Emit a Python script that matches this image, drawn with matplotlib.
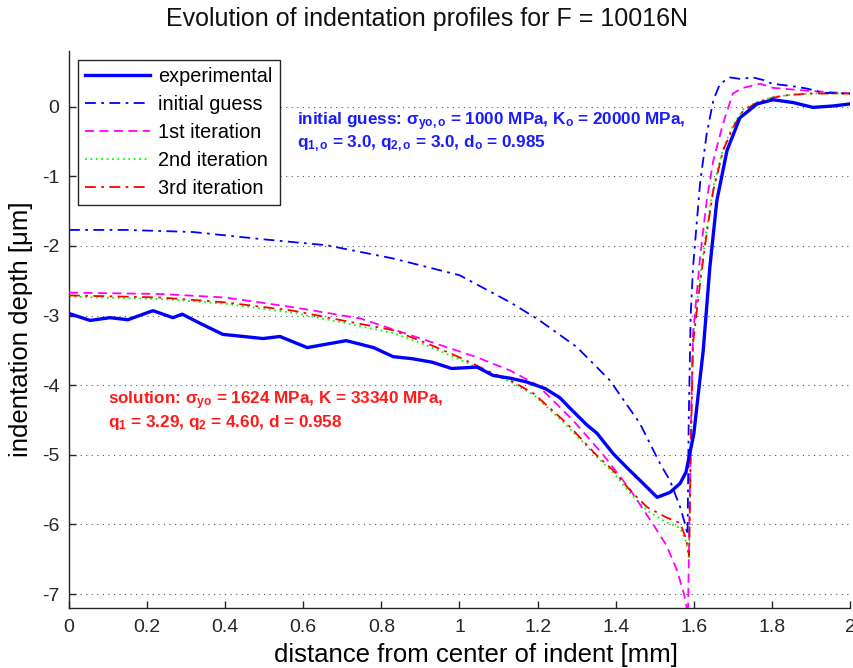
import matplotlib
matplotlib.use("Agg")
import matplotlib.pyplot as plt

plt.rcParams['font.family'] = ['Liberation Sans', 'DejaVu Sans']
plt.rcParams['mathtext.fontset'] = 'custom'
plt.rcParams['mathtext.rm'] = 'Liberation Sans'
plt.rcParams['mathtext.bf'] = 'Liberation Sans:bold'
plt.rcParams['mathtext.it'] = 'Liberation Sans:italic'
plt.rcParams['axes.unicode_minus'] = False

# ---------------- data ----------------
exp_x = [0.0, 0.054, 0.105, 0.151, 0.18, 0.215, 0.266, 0.29, 0.335, 0.394, 0.446, 0.497, 0.54,
         0.61, 0.65, 0.71, 0.78, 0.83, 0.88, 0.93, 0.98, 1.045, 1.086, 1.13, 1.17, 1.22, 1.257,
         1.283, 1.326, 1.352, 1.393, 1.428, 1.47, 1.506, 1.539, 1.565, 1.58, 1.6, 1.612, 1.624,
         1.641, 1.659, 1.685, 1.718, 1.762, 1.803, 1.854, 1.905, 1.956, 2.0]
exp_y = [-2.97, -3.07, -3.03, -3.06, -3.0, -2.93, -3.03, -2.98, -3.11, -3.27, -3.30, -3.33, -3.30,
         -3.46, -3.42, -3.36, -3.46, -3.59, -3.62, -3.67, -3.76, -3.74, -3.86, -3.90, -3.95, -4.05,
         -4.18, -4.33, -4.57, -4.69, -4.98, -5.18, -5.41, -5.61, -5.54, -5.41, -5.25, -4.7, -4.1,
         -3.51, -2.31, -1.35, -0.63, -0.16, 0.04, 0.10, 0.06, -0.01, 0.01, 0.04]

init_x = [0.0, 0.148, 0.318, 0.489, 0.66, 0.83, 1.0, 1.13, 1.2, 1.3, 1.385, 1.462, 1.513, 1.539,
          1.565, 1.578, 1.584, 1.587, 1.592, 1.598, 1.616, 1.633, 1.65, 1.667, 1.693, 1.718, 1.752,
          1.78, 1.80, 1.846, 1.89, 1.93, 2.0]
init_y = [-1.77, -1.77, -1.80, -1.90, -1.99, -2.18, -2.42, -2.81, -3.05, -3.45, -3.93, -4.55,
          -5.12, -5.37, -5.75, -6.0, -6.15, -4.5, -3.0, -2.31, -1.1, -0.39, 0.09, 0.33, 0.42, 0.40,
          0.42, 0.38, 0.33, 0.30, 0.26, 0.20, 0.19]

it1_x = [0.0, 0.233, 0.40, 0.574, 0.745, 0.917, 1.045, 1.13, 1.2, 1.29, 1.368, 1.437, 1.496, 1.53,
         1.557, 1.575, 1.585, 1.59, 1.594, 1.598, 1.616, 1.633, 1.65, 1.675, 1.70, 1.726, 1.77,
         1.803, 1.89, 2.0]
it1_y = [-2.67, -2.69, -2.74, -2.88, -3.04, -3.36, -3.6, -3.79, -4.0, -4.5, -5.0, -5.5, -6.0, -6.3,
         -6.66, -7.0, -7.3, -5.5, -4.2, -3.26, -2.17, -1.35, -0.77, -0.24, 0.19, 0.27, 0.33, 0.27,
         0.23, 0.19]

it2_x = [0.0, 0.233, 0.40, 0.574, 0.70, 0.83, 0.917, 1.0, 1.086, 1.13, 1.19, 1.275, 1.35, 1.393,
         1.437, 1.48, 1.53, 1.565, 1.58, 1.588, 1.592, 1.598, 1.616, 1.633, 1.65, 1.675, 1.70,
         1.726, 1.762, 1.803, 1.846, 1.905, 2.0]
it2_y = [-2.73, -2.76, -2.83, -2.96, -3.10, -3.25, -3.43, -3.63, -3.85, -3.95, -4.14, -4.58, -5.02,
         -5.25, -5.55, -5.80, -5.97, -6.05, -6.25, -6.5, -5.0, -3.3, -2.45, -1.75, -1.15, -0.6,
         -0.27, -0.04, 0.07, 0.14, 0.17, 0.19, 0.19]

it3_x = [0.0, 0.233, 0.40, 0.574, 0.70, 0.83, 0.917, 1.0, 1.086, 1.13, 1.19, 1.275, 1.35, 1.393,
         1.437, 1.48, 1.53, 1.565, 1.58, 1.588, 1.592, 1.598, 1.616, 1.633, 1.65, 1.675, 1.70,
         1.726, 1.762, 1.803, 1.846, 1.905, 2.0]
it3_y = [-2.71, -2.74, -2.81, -2.93, -3.07, -3.21, -3.40, -3.6, -3.83, -3.93, -4.12, -4.55, -5.0,
         -5.22, -5.51, -5.75, -5.9, -5.98, -6.2, -6.45, -5.0, -3.4, -2.54, -1.82, -1.2, -0.63,
         -0.3, -0.06, 0.06, 0.13, 0.17, 0.19, 0.19]

labels = ['experimental', 'initial guess', '1st iteration', '2nd iteration', '3rd iteration']
x_ticks = [0, 0.2, 0.4, 0.6, 0.8, 1, 1.2, 1.4, 1.6, 1.8, 2]
x_ticklabels = ['0', '0.2', '0.4', '0.6', '0.8', '1', '1.2', '1.4', '1.6', '1.8', '2']
y_ticks = [-7, -6, -5, -4, -3, -2, -1, 0]

init_text = ['initial guess: \u03c3$_{\\mathbf{yo,o}}$ = 1000 MPa, K$_{\\mathbf{o}}$ = 20000 MPa,',
             'q$_{\\mathbf{1,o}}$ = 3.0, q$_{\\mathbf{2,o}}$ = 3.0, d$_{\\mathbf{o}}$ = 0.985']
sol_text = ['solution: \u03c3$_{\\mathbf{yo}}$ = 1624 MPa, K = 33340 MPa,',
            'q$_{\\mathbf{1}}$ = 3.29, q$_{\\mathbf{2}}$ = 4.60, d = 0.958']

# ---------------- figure ----------------
fig = plt.figure(figsize=(8.54, 6.68), dpi=100)
ax = fig.add_axes([69/854, 1-608/668, (850-69)/854, (608-51)/668])

dashdot = (0, (6, 3, 1.5, 3))
ax.plot(exp_x, exp_y, color=(0, 0, 1), lw=2.4, ls='-', label=labels[0], zorder=5)
ax.plot(init_x, init_y, color=(0, 0, 1), lw=1.3, ls=dashdot, label=labels[1], zorder=4)
ax.plot(it1_x, it1_y, color=(1, 0, 1), lw=1.3, ls=(0, (5, 3)), label=labels[2], zorder=3)
ax.plot(it2_x, it2_y, color=(0, 1, 0), lw=1.3, ls=(0, (1, 2)), label=labels[3], zorder=2)
ax.plot(it3_x, it3_y, color=(1, 0, 0), lw=1.3, ls=dashdot, label=labels[4], zorder=3)

ax.set_xlim(0, 2)
ax.set_ylim(-7.2, 0.8)
ax.set_xticks(x_ticks)
ax.set_xticklabels(x_ticklabels)
ax.set_yticks(y_ticks)
ax.tick_params(direction='in', length=5, width=1, labelsize=14, colors='#262626',
               labelcolor='#262626')
ax.tick_params(axis='x', pad=8)
ax.tick_params(axis='y', pad=7)
for s in ['top', 'right']:
    ax.spines[s].set_visible(False)
for s in ['left', 'bottom']:
    ax.spines[s].set_color('#262626')
    ax.spines[s].set_linewidth(1.0)
ax.yaxis.grid(True, ls=(0, (1, 4)), color='#555555', lw=0.8)
ax.set_axisbelow(True)

fig.text(0.5, 1 - 19/668, 'Evolution of indentation profiles for F = 10016N', fontsize=18,
         ha='center', va='center', color='#111111')
ax.set_xlabel('distance from center of indent [mm]', fontsize=18.5)
ax.xaxis.set_label_coords((476 - 69) / 781, (608 - 655) / 557)
ax.xaxis.label.set_verticalalignment('center')
ax.set_ylabel('indentation depth [\u03bcm]', fontsize=18.5, labelpad=6)

leg = ax.legend(loc='upper left', bbox_to_anchor=(9/781, 1 - 9/557), fontsize=14.3,
                handlelength=3.3, handletextpad=0.4, borderpad=0.35, labelspacing=0.45,
                fancybox=False, framealpha=1, edgecolor='#262626', borderaxespad=0)
leg.get_frame().set_linewidth(1.0)

for txt, yv in zip(init_text, [-0.273, -0.59]):
    ax.text(0.585, yv, txt, color=(0.1, 0.1, 1), fontsize=12.3, fontweight='bold',
            va='baseline', ha='left')
for txt, yv in zip(sol_text, [-4.28, -4.60]):
    ax.text(0.1, yv, txt, color=(1, 0.1, 0.1), fontsize=12.3, fontweight='bold',
            va='baseline', ha='left')

fig.savefig('out.png', dpi=100)
